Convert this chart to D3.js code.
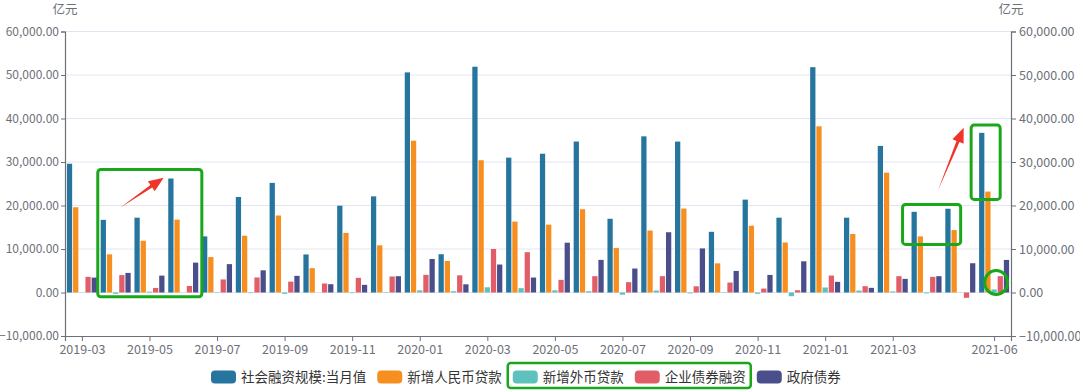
<!DOCTYPE html>
<html>
<head>
<meta charset="utf-8">
<script src="https://cdn.jsdelivr.net/npm/d3@7"></script>
<style>
  body { margin: 0; background: #fff; }
  svg { display: block; font-family: "Noto Sans CJK SC", "Noto Sans", sans-serif; }
</style>
</head>
<body>
<div id="chart"></div>
<script>
// monthly data, 亿元
const months = ["2019-03","2019-04","2019-05","2019-06","2019-07","2019-08","2019-09","2019-10","2019-11","2019-12",
  "2020-01","2020-02","2020-03","2020-04","2020-05","2020-06","2020-07","2020-08","2020-09","2020-10","2020-11","2020-12",
  "2021-01","2021-02","2021-03","2021-04","2021-05","2021-06"];
const tsf = [29600,16700,17200,26200,12900,21950,25200,8750,19950,22100,
  50600,8800,51900,31000,31900,34700,16950,35900,34700,13950,21350,17200,
  51800,17200,33700,18550,19250,36700];
const rmbLoans = [19600,8770,11900,16750,8150,13050,17700,5600,13700,10850,
  34900,7250,30400,16300,15600,19150,10250,14250,19300,6700,15350,11500,
  38200,13450,27550,12900,14350,23200];
const fxLoans = [50,-300,200,-30,-100,-150,-300,0,-150,-100,
  500,300,1200,1000,500,300,-500,450,-200,-100,-300,-850,
  1150,450,250,-200,30,700];
const corpBonds = [3600,4000,1050,1500,3000,3450,2500,2070,3370,3680,
  4060,3950,10000,9270,2900,3750,2370,3750,1420,2290,900,520,
  3900,1450,3750,3600,-1220,3750];
const govBonds = [3430,4500,3880,6870,6520,5100,3830,1910,1760,3750,
  7700,1880,6430,3440,11450,7500,5510,13850,10130,4960,4040,7170,
  2450,1070,3130,3750,6730,7490];
const seriesNames = ["社会融资规模:当月值","新增人民币贷款","新增外币贷款","企业债券融资","政府债券"];
const colors = ["#25759f","#f68f1f","#5fc1bd","#e15d67","#4a4e8b"];
const tickLabels = ["2019-03","2019-05","2019-07","2019-09","2019-11","2020-01","2020-03","2020-05",
  "2020-07","2020-09","2020-11","2021-01","2021-03","2021-06"];
const yTicks = [-10000,0,10000,20000,30000,40000,50000,60000];

const allSeries = [tsf, rmbLoans, fxLoans, corpBonds, govBonds];

const W = 1080, H = 390;
const margin = {top: 31.5, right: 69, bottom: 54, left: 65};

const svg = d3.select("#chart").append("svg")
  .attr("width", W).attr("height", H);

// month index scale, half a month of padding on each side
const x = d3.scaleLinear()
  .domain([-0.5, months.length - 0.5])
  .range([margin.left, W - margin.right]);
const inner = d3.scaleBand()
  .domain(d3.range(seriesNames.length))
  .range([-15, 15])
  .paddingInner(0.15);
const y = d3.scaleLinear()
  .domain([-10000, 60000])
  .range([H - margin.bottom, margin.top]);

const fmt = d3.format(",.2f");
const axisColor = "#6e7079";

// grid lines
svg.append("g").selectAll("line")
  .data(yTicks.filter(d => d > -10000))
  .join("line")
  .attr("x1", x.range()[0]).attr("x2", x.range()[1])
  .attr("y1", d => y(d)).attr("y2", d => y(d))
  .attr("stroke", "#e0e6f1").attr("stroke-width", 1);

// bars
allSeries.forEach((vals, s) => {
  svg.append("g").selectAll("rect")
    .data(vals)
    .join("rect")
    .attr("x", (d, i) => x(i) + inner(s))
    .attr("width", inner.bandwidth())
    .attr("y", d => y(Math.max(0, d)))
    .attr("height", d => Math.abs(y(d) - y(0)))
    .attr("fill", colors[s]);
});

// left axis
const yl = svg.append("g")
  .attr("transform", `translate(${x.range()[0]},0)`)
  .call(d3.axisLeft(y).tickValues(yTicks).tickFormat(fmt).tickSizeOuter(0).tickSize(4).tickPadding(2));
// right axis
const yr = svg.append("g")
  .attr("transform", `translate(${x.range()[1]},0)`)
  .call(d3.axisRight(y).tickValues(yTicks).tickFormat(fmt).tickSizeOuter(0).tickSize(5).tickPadding(3));
// bottom axis
const xa = svg.append("g")
  .attr("transform", `translate(0,${y(-10000)})`)
  .call(d3.axisBottom(x)
    .tickValues(tickLabels.map(t => months.indexOf(t)))
    .tickFormat(i => months[i])
    .tickSizeOuter(0).tickSize(5).tickPadding(4));

[yl, yr, xa].forEach(g => {
  g.select(".domain").attr("stroke", axisColor).attr("stroke-width", 1.2);
  g.selectAll(".tick line").attr("stroke", axisColor);
  g.selectAll(".tick text").attr("fill", axisColor).style("font-size", "12.5px")
    .style("font-family", "'Noto Sans CJK SC', sans-serif");
});
yl.selectAll(".tick text").style("font-size", "12px");

// unit labels
[x.range()[0], x.range()[1]].forEach(px => {
  svg.append("text").attr("x", px).attr("y", 14)
    .attr("text-anchor", "middle").attr("fill", axisColor)
    .style("font-size", "12.5px").text("亿元");
});

// legend
const legend = svg.append("g").attr("transform", "translate(0,377)");
let lx = 211;
const itemPos = [];
seriesNames.forEach((name, s) => {
  const g = legend.append("g").attr("transform", `translate(${lx},0)`);
  g.append("rect").attr("x", 0).attr("y", -6.5).attr("width", 25).attr("height", 13)
    .attr("rx", 4).attr("fill", colors[s]);
  const t = g.append("text").attr("x", 30).attr("y", 0).attr("dy", "0.35em")
    .attr("fill", "#333").style("font-size", "13.5px").text(name);
  const w = t.node().getComputedTextLength();
  itemPos.push([lx, lx + 30 + w]);
  lx += 30 + w + 11;
});

// annotations (green boxes, red arrows)
const green = "#1aa81a", red = "#f0342a";
function box(i0, i1, v0, v1) {
  svg.append("rect")
    .attr("x", x(i0)).attr("y", y(v0))
    .attr("width", x(i1) - x(i0)).attr("height", y(v1) - y(v0))
    .attr("rx", 3).attr("fill", "none").attr("stroke", green).attr("stroke-width", 3);
}
box(0.47, 3.55, 28300, -1000);
box(24.29, 26.01, 20250, 11060);
box(26.32, 27.18, 38480, 21400);
svg.append("ellipse")
  .attr("cx", x(27.06)).attr("cy", y(2320)).attr("rx", 11.5).attr("ry", 12)
  .attr("fill", "none").attr("stroke", green).attr("stroke-width", 3);
svg.append("rect")
  .attr("x", itemPos[2][0] - 5).attr("y", 363)
  .attr("width", itemPos[3][1] - itemPos[2][0] + 10).attr("height", 25)
  .attr("rx", 3).attr("fill", "none").attr("stroke", green).attr("stroke-width", 2.5);

function arrow(i0, v0, i1, v1) {
  const x0 = x(i0), y0 = y(v0), x1 = x(i1), y1 = y(v1);
  const a = Math.atan2(y1 - y0, x1 - x0);
  const len = 15, half = 6;
  const bx = x1 - len * Math.cos(a), by = y1 - len * Math.sin(a);
  const nx = -Math.sin(a), ny = Math.cos(a);
  svg.append("path")
    .attr("d", `M${x0},${y0} L${bx + nx * 1.6},${by + ny * 1.6} L${bx + nx * half},${by + ny * half} L${x1},${y1} L${bx - nx * half},${by - ny * half} L${bx - nx * 1.6},${by - ny * 1.6} Z`)
    .attr("fill", red);
}
arrow(1.12, 19400, 2.42, 26400);
arrow(25.34, 23500, 26.1, 37900);
</script>
</body>
</html>
